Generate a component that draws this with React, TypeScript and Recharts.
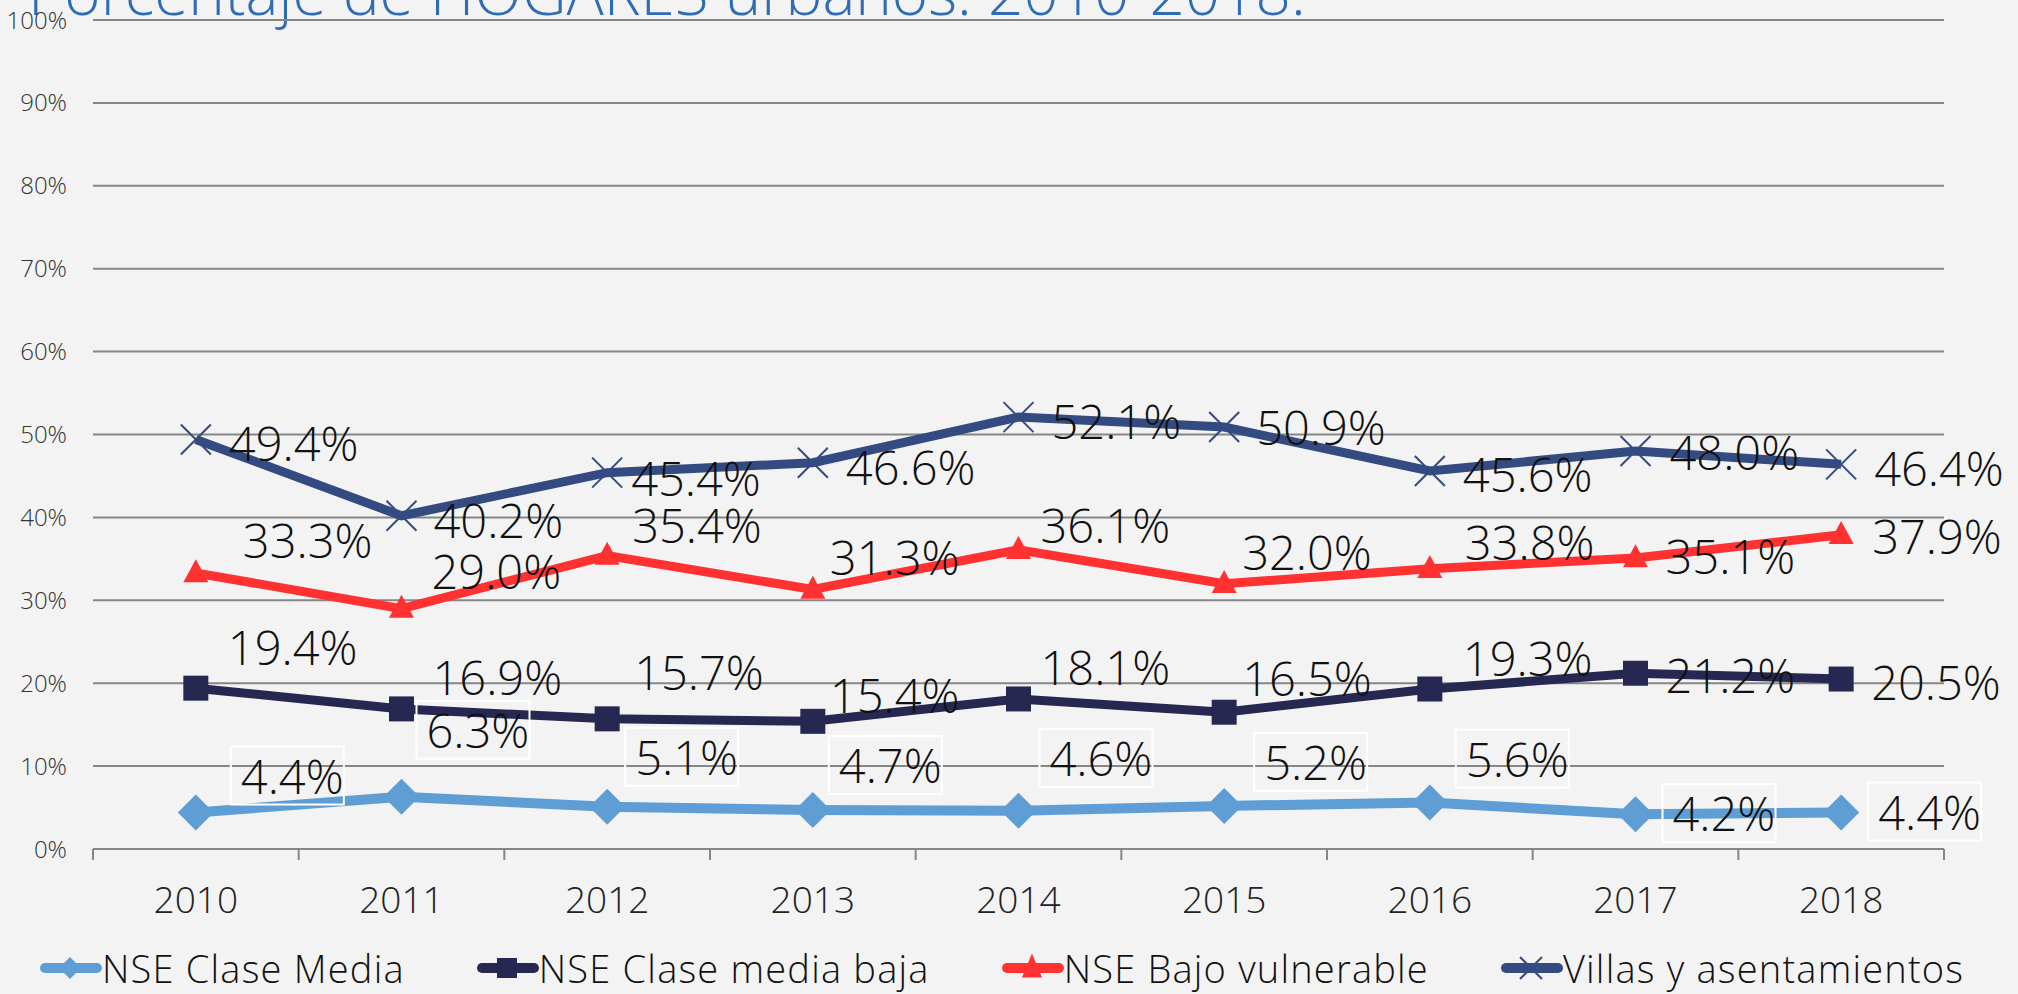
import React from "react"
import {
  LineChart,
  Line,
  XAxis,
  YAxis,
  CartesianGrid,
  LabelList
} from "recharts"

// ---- datos (porcentaje de hogares urbanos) ----
const years = ["2010", "2011", "2012", "2013", "2014", "2015", "2016", "2017", "2018"]
const claseMedia = [4.4, 6.3, 5.1, 4.7, 4.6, 5.2, 5.6, 4.2, 4.4]
const mediaBaja = [19.4, 16.9, 15.7, 15.4, 18.1, 16.5, 19.3, 21.2, 20.5]
const bajoVulnerable = [33.3, 29.0, 35.4, 31.3, 36.1, 32.0, 33.8, 35.1, 37.9]
const villas = [49.4, 40.2, 45.4, 46.6, 52.1, 50.9, 45.6, 48.0, 46.4]
const yTicks = [0, 10, 20, 30, 40, 50, 60, 70, 80, 90, 100]

const rows = years.map((year, i) => ({
  year,
  claseMedia: claseMedia[i],
  mediaBaja: mediaBaja[i],
  bajoVulnerable: bajoVulnerable[i],
  villas: villas[i]
}))

// ---- estilo ----
const W = 2018
const H = 994
const FONT = "'Open Sans', 'DejaVu Sans', sans-serif"
const BG = "#F3F3F3"
const GRID = "#868686"
const C_MEDIA = "#5F9ED5"
const C_BAJA = "#262852"
const C_VULN = "#FF3131"
const C_VILLAS = "#344B82"

const margin = { top: 20, right: 74, bottom: 85, left: 0 }
const yAxisWidth = 93
const plotW = W - margin.right - yAxisWidth
const halfBand = plotW / years.length / 2

// desplazamiento de las etiquetas (como quedaron en el original)
const shift: Record<string, { dx: number[]; dy: number[] }> = {
  claseMedia: { dx: [45, 25, 28, 26, 31, 40, 36, 37, 37], dy: [-37, -67, -50, -45, -53, -44, -44, -1, -1] },
  mediaBaja: { dx: [32, 31, 27, 17, 22, 18, 33, 30, 30], dy: [-41, -32, -47, -26, -32, -34, -31, 2, 3] },
  bajoVulnerable: { dx: [47, 30, 25, 17, 22, 18, 35, 30, 31], dy: [-33, -38, -31, -33, -25, -32, -27, -2, 1] },
  villas: { dx: [33, 32, 24, 33, 33, 32, 33, 34, 33], dy: [4, 4, 5, 4, 4, 0, 3, 1, 4] }
}

/* ----------------------- marcadores ----------------------- */

function Diamond({ cx, cy, r = 18, color = C_MEDIA }: any) {
  return <path d={`M${cx},${cy - r} L${cx + r},${cy} L${cx},${cy + r} L${cx - r},${cy} Z`} fill={color} />
}

function Square({ cx, cy, s = 25, color = C_BAJA }: any) {
  return <rect x={cx - s / 2} y={cy - s / 2} width={s} height={s} fill={color} />
}

function Triangle({ cx, cy, w = 25, h = 23, color = C_VULN }: any) {
  return <path d={`M${cx},${cy - h * 0.6} L${cx + w / 2},${cy + h * 0.4} L${cx - w / 2},${cy + h * 0.4} Z`} fill={color} />
}

function Cross({ cx, cy, s = 15, color = C_VILLAS }: any) {
  return (
    <g stroke={color} strokeWidth={2}>
      <line x1={cx - s} y1={cy - s} x2={cx + s} y2={cy + s} />
      <line x1={cx - s} y1={cy + s} x2={cx + s} y2={cy - s} />
    </g>
  )
}

/* ----------------------- etiquetas ----------------------- */

function makeLabel(key: string, boxed = false) {
  return (props: any) => {
    const { x, y, value, index } = props
    const dx = shift[key].dx[index]
    const dy = shift[key].dy[index]
    const tx = x + dx
    const ty = y + dy
    return (
      <g key={`${key}-${index}`}>
        {boxed && (
          <rect x={tx - 10} y={ty - 29} width={113} height={58} fill="none" stroke="#ffffff" strokeWidth={2} />
        )}
        <text x={tx} y={ty} dominantBaseline="central" fontFamily={FONT} fontWeight={300} fontSize={47} fill="#111">
          {`${Number(value).toFixed(1)}%`}
        </text>
      </g>
    )
  }
}

function YearTick(props: any) {
  const { x, y, payload, index } = props
  const last = index === years.length - 1
  return (
    <g>
      <line x1={x - halfBand} y1={y} x2={x - halfBand} y2={y + 11} stroke={GRID} strokeWidth={2} />
      {last && <line x1={x + halfBand} y1={y} x2={x + halfBand} y2={y + 11} stroke={GRID} strokeWidth={2} />}
      <text x={x} y={y + 49} textAnchor="middle" dominantBaseline="central" fontFamily={FONT} fontWeight={300} fontSize={37} fill="#222">
        {payload.value}
      </text>
    </g>
  )
}

/* ----------------------- leyenda ----------------------- */

const legendItems = [
  { name: "NSE Clase Media", color: C_MEDIA, marker: <Diamond cx={30} cy={20} r={11} /> },
  { name: "NSE Clase media baja", color: C_BAJA, marker: <Square cx={30} cy={20} s={20} /> },
  { name: "NSE Bajo vulnerable", color: C_VULN, marker: <Triangle cx={30} cy={20} w={20} h={24} /> },
  { name: "Villas y asentamientos", color: C_VILLAS, marker: <Cross cx={30} cy={20} s={11} /> }
]

function ChartLegend() {
  return (
    <div
      style={{
        position: "absolute",
        left: 40,
        top: 944,
        height: 48,
        display: "flex",
        alignItems: "center",
        gap: 72,
        fontFamily: FONT,
        fontWeight: 300,
        fontSize: 38,
        letterSpacing: 1.2,
        color: "#111",
        whiteSpace: "nowrap"
      }}
    >
      {legendItems.map((it) => (
        <div key={it.name} style={{ display: "flex", alignItems: "center" }}>
          <svg width={62} height={40} style={{ display: "block" }}>
            <line x1={5} y1={20} x2={57} y2={20} stroke={it.color} strokeWidth={10} strokeLinecap="round" />
            {it.marker}
          </svg>
          <span style={{ lineHeight: "48px" }}>{it.name}</span>
        </div>
      ))}
    </div>
  )
}

/* ----------------------- grafico ----------------------- */

export default function App() {
  return (
    <div style={{ position: "absolute", left: 0, top: 0, width: W, height: H, overflow: "hidden", background: BG }}>
      <div
        style={{
          position: "absolute",
          left: 28,
          top: -40,
          fontFamily: FONT,
          fontWeight: 300,
          fontSize: 62,
          lineHeight: "62px",
          color: "#2E6CB5",
          whiteSpace: "nowrap"
        }}
      >
        Porcentaje de HOGARES urbanos. 2010-2018.
      </div>
      <LineChart width={W} height={H} data={rows} margin={margin} style={{ position: "absolute", left: 0, top: 0 }}>
        <CartesianGrid vertical={false} stroke={GRID} strokeWidth={2} />
        <XAxis
          dataKey="year"
          padding={{ left: halfBand, right: halfBand }}
          axisLine={{ stroke: GRID, strokeWidth: 2 }}
          tickLine={false}
          tickSize={0}
          tickMargin={0}
          height={60}
          interval={0}
          tick={<YearTick />}
        />
        <YAxis
          domain={[0, 100]}
          ticks={yTicks}
          width={yAxisWidth}
          axisLine={false}
          tickLine={false}
          tickSize={0}
          tickMargin={26}
          tickFormatter={(v: number) => `${v}%`}
          tick={{ fontFamily: FONT, fontWeight: 300, fontSize: 24, fill: "#333" }}
        />
        <Line
          dataKey="villas"
          stroke={C_VILLAS}
          strokeWidth={9}
          dot={(p: any) => <Cross key={`v${p.index}`} cx={p.cx} cy={p.cy} />}
          activeDot={false}
          isAnimationActive={false}
        >
          <LabelList dataKey="villas" content={makeLabel("villas")} />
        </Line>
        <Line
          dataKey="bajoVulnerable"
          stroke={C_VULN}
          strokeWidth={9}
          dot={(p: any) => <Triangle key={`t${p.index}`} cx={p.cx} cy={p.cy} />}
          activeDot={false}
          isAnimationActive={false}
        >
          <LabelList dataKey="bajoVulnerable" content={makeLabel("bajoVulnerable")} />
        </Line>
        <Line
          dataKey="mediaBaja"
          stroke={C_BAJA}
          strokeWidth={9}
          dot={(p: any) => <Square key={`s${p.index}`} cx={p.cx} cy={p.cy} />}
          activeDot={false}
          isAnimationActive={false}
        >
          <LabelList dataKey="mediaBaja" content={makeLabel("mediaBaja")} />
        </Line>
        <Line
          dataKey="claseMedia"
          stroke={C_MEDIA}
          strokeWidth={10}
          dot={(p: any) => <Diamond key={`d${p.index}`} cx={p.cx} cy={p.cy} />}
          activeDot={false}
          isAnimationActive={false}
        >
          <LabelList dataKey="claseMedia" content={makeLabel("claseMedia", true)} />
        </Line>
      </LineChart>
      <ChartLegend />
    </div>
  )
}
